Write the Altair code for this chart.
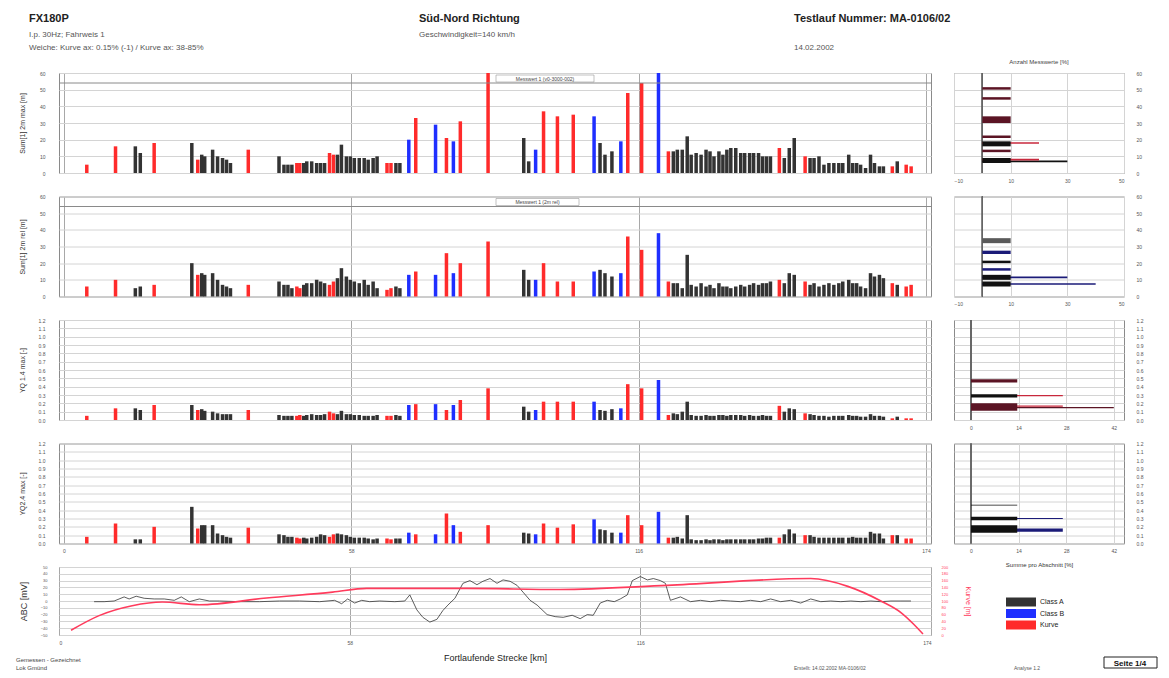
import altair as alt
import pandas as pd

FONT = "Liberation Sans"
GRID = "#d4d4d4"
VGRID = "#a8a8a8"
LABEL = "#555555"

# ---------------- distance axis ----------------
km_domain = [0, 174]
km_ticks = [0, 58, 116, 174]

# ---------------- bar data (one entry per measured spot) ----------------
km = [4.6, 10.4, 14.4, 15.4, 18.2, 25.8, 27.0, 27.8, 28.4, 30.0,
      31.0, 32.0, 32.8, 33.6, 37.2, 43.4, 44.4, 45.2, 46.0, 47.0,
      47.6, 48.4, 49.0, 50.0, 51.0, 51.8, 52.6, 53.6, 54.4, 55.2,
      56.0, 57.0, 57.8, 58.6, 59.6, 60.6, 61.4, 62.4, 63.2, 65.2,
      66.0, 67.0, 67.8, 69.6, 71.0, 75.0, 77.2, 78.6, 80.0, 85.6,
      92.8, 93.8, 95.2, 96.8, 99.6, 102.8, 107.0, 108.2, 109.2, 110.6,
      112.4, 113.8, 116.6, 120.0, 122.0, 123.0, 123.8, 124.8, 125.8, 126.6,
      127.6, 128.6, 129.6, 130.4, 131.2, 132.2, 133.0, 133.8, 134.6, 135.6,
      136.6, 137.4, 138.4, 139.2, 140.2, 141.0, 141.8, 142.6, 144.4, 145.4,
      146.4, 147.4, 149.6, 150.6, 151.4, 152.4, 153.4, 154.4, 155.4, 156.4,
      157.2, 158.4, 159.2, 160.0, 160.8, 161.8, 162.8, 163.6, 164.6, 165.4,
      167.2, 168.2, 170.0, 171.0]
cls = list("KKAAKAKAAA" "AAAAKAAAAK" "KAAAAAAKKA" "AAAAAAAAAK" "KAABKBKBKK"
           "AABKKKBAAA" "BKKBKAAAAA" "AAAAAAAAAA" "AAAAAAAAKA" "AAKAAAAAAA"
           "AAAAAAAAAA" "KAKK")
p1 = [5, 16, 16, 12, 18, 18, 8, 11, 10, 14,
      10, 9, 8, 6, 14, 10, 5, 5, 5, 6,
      6, 6, 7, 7, 6, 6, 6, 12, 11, 11,
      17, 10, 10, 9, 9, 9, 8, 9, 10, 6,
      6, 6, 6, 20, 33, 29, 21, 19, 31, 60,
      21, 7, 14, 37, 34, 35, 34, 18, 11, 13,
      19, 48, 54, 60, 13, 13, 14, 14, 22, 11,
      12, 11, 14, 13, 10, 13, 11, 14, 15, 15,
      12, 12, 12, 12, 12, 10, 10, 10, 15, 9,
      15, 21, 10, 9, 9, 10, 5, 6, 6, 6,
      6, 11, 6, 6, 5, 3, 11, 6, 4, 4,
      4, 7, 5, 4]
p2 = [6, 10, 5, 6, 7, 20, 13, 14, 13, 14,
      10, 7, 6, 5, 7, 9, 7, 7, 5, 6,
      5, 7, 8, 8, 10, 9, 8, 7, 9, 11,
      17, 12, 10, 9, 8, 10, 7, 9, 5, 4,
      5, 6, 5, 13, 15, 13, 26, 14, 20, 33,
      16, 10, 10, 20, 9, 9, 15, 16, 14, 12,
      14, 36, 28, 38, 9, 8, 8, 5, 25, 7,
      6, 8, 6, 7, 5, 8, 6, 6, 5, 6,
      7, 6, 7, 8, 7, 8, 8, 9, 10, 8,
      14, 13, 9, 7, 8, 6, 7, 8, 7, 8,
      9, 10, 8, 8, 6, 5, 14, 12, 13, 11,
      8, 7, 6, 7]
p3 = [0.05, 0.14, 0.14, 0.12, 0.18, 0.18, 0.12, 0.13, 0.11, 0.10,
      0.08, 0.07, 0.07, 0.07, 0.12, 0.06, 0.05, 0.05, 0.05, 0.05,
      0.06, 0.05, 0.06, 0.07, 0.06, 0.06, 0.07, 0.10, 0.08, 0.07,
      0.11, 0.07, 0.07, 0.06, 0.06, 0.05, 0.05, 0.05, 0.06, 0.05,
      0.05, 0.06, 0.05, 0.18, 0.19, 0.19, 0.12, 0.18, 0.24, 0.38,
      0.16, 0.10, 0.12, 0.22, 0.22, 0.22, 0.22, 0.12, 0.11, 0.13,
      0.14, 0.43, 0.38, 0.48, 0.06, 0.08, 0.07, 0.10, 0.22, 0.06,
      0.05, 0.05, 0.06, 0.05, 0.05, 0.06, 0.06, 0.05, 0.06, 0.06,
      0.06, 0.05, 0.06, 0.05, 0.05, 0.06, 0.05, 0.05, 0.17, 0.10,
      0.14, 0.13, 0.08, 0.07, 0.06, 0.05, 0.05, 0.04, 0.05, 0.05,
      0.05, 0.06, 0.05, 0.05, 0.04, 0.04, 0.07, 0.05, 0.05, 0.04,
      0.02, 0.04, 0.02, 0.02]
p4 = [0.08, 0.24, 0.05, 0.05, 0.20, 0.44, 0.18, 0.22, 0.22, 0.22,
      0.12, 0.10, 0.08, 0.07, 0.19, 0.11, 0.10, 0.08, 0.08, 0.07,
      0.06, 0.07, 0.06, 0.07, 0.08, 0.11, 0.10, 0.08, 0.11, 0.12,
      0.11, 0.10, 0.08, 0.07, 0.07, 0.07, 0.06, 0.05, 0.06, 0.06,
      0.05, 0.06, 0.06, 0.13, 0.11, 0.11, 0.36, 0.22, 0.14, 0.22,
      0.13, 0.12, 0.11, 0.24, 0.19, 0.23, 0.29, 0.17, 0.16, 0.13,
      0.13, 0.34, 0.22, 0.38, 0.07, 0.07, 0.08, 0.06, 0.34, 0.05,
      0.04, 0.04, 0.05, 0.04, 0.05, 0.05, 0.04, 0.05, 0.05, 0.05,
      0.05, 0.05, 0.05, 0.05, 0.06, 0.06, 0.07, 0.07, 0.07, 0.11,
      0.17, 0.12, 0.10, 0.10, 0.08, 0.07, 0.07, 0.07, 0.07, 0.07,
      0.07, 0.07, 0.08, 0.07, 0.07, 0.07, 0.14, 0.12, 0.12, 0.06,
      0.10, 0.10, 0.06, 0.06]

class_codes = ["A", "B", "K"]
class_names = ["Class A", "Class B", "Kurve"]
class_colors = ["#333333", "#1f2fff", "#ff2b2b"]

# ---------------- lower panel lines ----------------
abl_km = [7.0, 9.0, 11.0, 13.0, 14.0, 15.4, 17.0, 19.0, 21.0, 23.0,
          24.4, 26.0, 28.0, 30.0, 32.0, 36.0, 40.0, 44.0, 48.0, 52.0,
          55.0, 56.4, 57.6, 59.0, 60.4, 62.0, 64.0, 67.0, 69.0, 70.0,
          71.4, 72.6, 74.0, 75.4, 76.6, 77.6, 79.0, 80.6, 82.0, 83.4,
          84.6, 86.0, 87.4, 88.6, 90.0, 91.4, 92.6, 94.0, 95.4, 97.4,
          99.0, 100.6, 102.4, 104.0, 105.4, 106.6, 108.0, 109.4, 110.8, 112.0,
          113.4, 114.4, 116.0, 117.4, 118.6, 120.0, 121.0, 122.0, 124.0, 126.0,
          128.0, 130.0, 132.0, 134.0, 136.0, 138.0, 140.0, 142.0, 144.0, 146.0,
          148.0, 150.0, 152.0, 154.0, 156.0, 158.0, 160.0, 162.0, 164.0, 166.0,
          168.0, 170.0]
abl_val = [-1, -1, 0, 6, 3, 7, 4, 3, 3, 1,
           6, -1, 3, 0, 0, -1, -1, 0, 0, -1,
           1, -4, 3, -3, 1, -1, 0, -1, 0, 9,
           -13, -24, -31, -27, -14, -6, 4, 26, 30, 24,
           29, 33, 26, 31, 29, 23, 13, 1, -6, -20,
           -23, -24, -21, -26, -20, -21, -3, 1, -1, 3,
           9, 30, 36, 31, 33, 30, 26, 1, 6, -1,
           1, -1, 1, 0, -1, 1, -1, 3, -1, 1,
           -3, 3, -1, 0, -1, 0, -1, 0, -1, 0,
           0, 0]
kurve_km = [2.4, 8.0, 14.6, 20.6, 28.0, 41.4, 54.6, 61.4, 81.4, 100.0,
            121.4, 150.0, 157.4, 164.0, 168.0, 170.6, 172.4]
kurve_val = [14, 57, 86, 97, 89, 109, 126, 137, 137, 134,
             146, 166, 143, 100, 66, 31, 3]

# ---------------- histograms ----------------
tone_codes = ["A", "M", "R", "N", "G"]
tone_colors = ["#111111", "#5b1424", "#c8283c", "#1b1b78", "#5a5a5a"]

h1_lo = [50.0, 44.0, 30.0, 21.0, 17.5, 16.0, 12.5, 6.5, 7.5, 6.0]
h1_hi = [51.5, 45.5, 34.0, 22.5, 18.5, 19.0, 14.0, 7.5, 8.5, 9.0]
h1_pct = [10, 10, 10, 10, 20, 10, 10, 30, 20, 10]
h1_tone = ["M", "M", "M", "M", "R", "A", "M", "A", "R", "A"]

h2_lo = [32.0, 25.5, 20.0, 15.5, 11.0, 10.0, 7.0, 6.0]
h2_hi = [35.0, 27.5, 21.5, 17.0, 12.0, 13.0, 8.0, 9.0]
h2_pct = [10, 10, 10, 10, 30, 10, 40, 10]
h2_tone = ["G", "N", "A", "N", "N", "A", "N", "A"]

h3_lo = [0.45, 0.285, 0.27, 0.14, 0.16, 0.11]
h3_hi = [0.49, 0.30, 0.31, 0.155, 0.175, 0.20]
h3_pct = [13.6, 27, 13.6, 42, 27, 13.6]
h3_tone = ["M", "R", "A", "M", "R", "M"]

h4_lo = [0.455, 0.295, 0.28, 0.14, 0.13]
h4_hi = [0.465, 0.305, 0.32, 0.18, 0.22]
h4_pct = [13.6, 27, 13.6, 27, 13.6]
h4_tone = ["A", "N", "A", "N", "A"]

y60_ticks = [0, 10, 20, 30, 40, 50, 60]
y12_ticks = [0.0, 0.1, 0.2, 0.3, 0.4, 0.5, 0.6, 0.7, 0.8, 0.9, 1.0, 1.1, 1.2]

bars = pd.DataFrame({"km": km, "code": cls, "p1": p1, "p2": p2, "p3": p3, "p4": p4})
bars["klasse"] = bars["code"].map(dict(zip(class_codes, class_names)))

BAR_W, BAR_H = 872, 100
HIST_W = 170
LINE_H = 68


def note(text, x, y, size=7, weight="normal", align="left", color="#333333"):
    return alt.Chart(pd.DataFrame({"t": [text]})).mark_text(
        align=align, baseline="alphabetic", fontSize=size, fontWeight=weight,
        color=color, font=FONT
    ).encode(text="t:N", x=alt.value(x), y=alt.value(y))


def x_axis(show_labels, title=""):
    kw = dict(values=km_ticks, labels=show_labels, ticks=False, domain=False,
              grid=True, gridColor=VGRID, labelFontSize=5, labelColor=LABEL,
              labelPadding=5, title=title)
    if title:
        kw.update(titleFontSize=9, titleFontWeight="normal", titlePadding=8,
                  titleColor="#222222")
    return alt.Axis(**kw)


def x_km(show_labels, title=""):
    return alt.X("km:Q", scale=alt.Scale(domain=km_domain, nice=False, zero=False),
                 axis=x_axis(show_labels, title))


def bar_panel(field, ytitle, ydom, yvals, yfmt, show_x):
    return alt.Chart(bars).mark_bar(size=3.5, orient="vertical").encode(
        x=x_km(show_x),
        y=alt.Y(f"{field}:Q", scale=alt.Scale(domain=ydom, nice=False, zero=True),
                axis=alt.Axis(values=yvals, format=yfmt, title=ytitle, titleX=-34,
                              titleY=BAR_H / 2, titleFontSize=7,
                              titleFontWeight="normal", titleColor="#333333",
                              ticks=False, domain=False, grid=True, gridColor=GRID,
                              labelFontSize=5, labelColor=LABEL, labelPadding=14)),
        color=alt.Color("klasse:N", scale=alt.Scale(domain=class_names, range=class_colors),
                        legend=None),
    )


def strip(label, x0, x1):
    line = alt.Chart(pd.DataFrame({"t": [label]})).mark_rule(
        color="#8a8a8a", strokeWidth=1).encode(y=alt.value(10))
    box = alt.Chart(pd.DataFrame({"t": [label]})).mark_rect(
        fill="white", stroke="#999999", strokeWidth=0.6).encode(
        x=alt.value(x0), x2=alt.value(x1), y=alt.value(2), y2=alt.value(9))
    txt = alt.Chart(pd.DataFrame({"t": [label]})).mark_text(
        fontSize=5, color="#444444", font=FONT, baseline="middle").encode(
        text="t:N", x=alt.value((x0 + x1) / 2), y=alt.value(5.5))
    return [line, box, txt]


def hist_panel(lo, hi, pct, tone, ydom, yvals, yfmt, xdom, xvals, xfmt,
               xtitle="", title=""):
    df = pd.DataFrame({"lo": lo, "hi": hi, "pct": pct, "tone": tone})
    xax = dict(values=xvals, format=xfmt, title=xtitle, ticks=False, domain=False,
               grid=True, gridColor=GRID, labelFontSize=5, labelColor=LABEL,
               labelPadding=5)
    if xtitle:
        xax.update(titleFontSize=6, titleFontWeight="normal", titlePadding=8,
                   titleColor="#333333")
    xenc = alt.X("pct:Q", scale=alt.Scale(domain=xdom, nice=False, zero=False),
                 axis=alt.Axis(**xax))
    yenc = alt.Y("lo:Q", scale=alt.Scale(domain=ydom, nice=False, zero=True),
                 axis=alt.Axis(orient="right", values=yvals, format=yfmt, title="",
                               ticks=False, domain=False, grid=True, gridColor=GRID,
                               labelFontSize=5, labelColor=LABEL, labelPadding=12))
    zero = alt.Chart(df).mark_rule(color="#666666", strokeWidth=1).encode(
        x=alt.datum(0))
    rect = alt.Chart(df).mark_rect().encode(
        x=xenc, x2=alt.datum(0), y=yenc, y2="hi:Q",
        color=alt.Color("tone:N", scale=alt.Scale(domain=tone_codes, range=tone_colors),
                        legend=None),
    )
    ch = alt.layer(zero, rect).properties(width=HIST_W, height=BAR_H)
    if title:
        ch = ch.properties(title=alt.TitleParams(title, fontSize=6, fontWeight="normal",
                                                 color="#444444", offset=6, font=FONT))
    return ch


# ---------------- left column ----------------
header = [
    note("FX180P", -30, -51, 11, "bold", color="#222222"),
    note("I.p. 30Hz; Fahrweis 1", -30, -36, 8, color="#555555"),
    note("Weiche: Kurve ax: 0.15% (-1) / Kurve ax: 38-85%", -30, -23, 8, color="#555555"),
    note("Süd-Nord Richtung", 360, -51, 11, "bold", color="#222222"),
    note("Geschwindigkeit=140 km/h", 360, -36, 8, color="#555555"),
    note("Testlauf Nummer: MA-0106/02", 735, -51, 11, "bold", color="#222222"),
    note("14.02.2002", 735, -23, 8, color="#555555"),
]

bar1 = alt.layer(
    bar_panel("p1", "Sum[1] 2m max [m]", [0, 60], y60_ticks, "d", False),
    *strip("Messwert 1 (v0-3000-002)", 437, 535),
    *header,
).properties(width=BAR_W, height=BAR_H)

bar2 = alt.layer(
    bar_panel("p2", "Sum[1] 2m rel [m]", [0, 60], y60_ticks, "d", False),
    *strip("Messwert 1 (2m rel)", 437, 520),
).properties(width=BAR_W, height=BAR_H)

bar3 = bar_panel("p3", "YQ 1.4 max [-]", [0, 1.2], y12_ticks, ".1f", False).properties(
    width=BAR_W, height=BAR_H)
bar4 = bar_panel("p4", "YQ2.4 max [-]", [0, 1.2], y12_ticks, ".1f", True).properties(
    width=BAR_W, height=BAR_H)

abl_df = pd.DataFrame({"km": abl_km, "val": abl_val})
kurve_df = pd.DataFrame({"km": kurve_km, "val": kurve_val})

abl_line = alt.Chart(abl_df).mark_line(color="#333333", strokeWidth=0.8).encode(
    x=x_km(True, "Fortlaufende Strecke [km]"),
    y=alt.Y("val:Q", scale=alt.Scale(domain=[-50, 50], nice=False, zero=False),
            axis=alt.Axis(values=[-50, -40, -30, -20, -10, 0, 10, 20, 30, 40, 50],
                          title="ABC [mV]", titleX=-31, titleY=LINE_H / 2,
                          titleFontSize=9, titleFontWeight="normal",
                          titleColor="#333333", ticks=False, domain=False,
                          grid=True, gridColor=GRID, labelFontSize=4,
                          labelColor=LABEL, labelPadding=12)),
)
kurve_line = alt.Chart(kurve_df).mark_line(color="#ff3b5c", strokeWidth=1.6,
                                           interpolate="monotone").encode(
    x=x_km(True, "Fortlaufende Strecke [km]"),
    y=alt.Y("val:Q", scale=alt.Scale(domain=[0, 200], nice=False, zero=True),
            axis=alt.Axis(orient="right", values=[0, 20, 40, 60, 80, 100, 120, 140, 160, 180, 200],
                          title="Kurve [m]", titleX=33, titleY=LINE_H / 2,
                          titleFontSize=7, titleFontWeight="normal",
                          titleColor="#ff3b5c", ticks=False, domain=False,
                          grid=False, labelFontSize=4, labelColor="#ff3b5c",
                          labelPadding=10)),
)
line_panel = alt.layer(
    abl_line, kurve_line,
    note("Gemessen - Gezeichnet", -43, 95, 6, color="#444444"),
    note("Lok Gmünd", -43, 103, 6, color="#444444"),
    note("Erstellt: 14.02.2002  MA-0106/02", 735, 103, 5, color="#555555"),
).resolve_scale(y="independent").properties(width=BAR_W, height=LINE_H)

# ---------------- right column ----------------
hist1 = hist_panel(h1_lo, h1_hi, h1_pct, h1_tone, [0, 60], y60_ticks, "d",
                   [-10, 50], list(range(-10, 51, 5)), "d",
                   title="Anzahl Messwerte [%]")
hist2 = hist_panel(h2_lo, h2_hi, h2_pct, h2_tone, [0, 60], y60_ticks, "d",
                   [-10, 50], list(range(-10, 51, 5)), "d")
hist3 = hist_panel(h3_lo, h3_hi, h3_pct, h3_tone, [0, 1.2], y12_ticks, ".1f",
                   [-5, 45], [0, 7, 14, 21, 28, 35, 42], "d")
hist4 = hist_panel(h4_lo, h4_hi, h4_pct, h4_tone, [0, 1.2], y12_ticks, ".1f",
                   [-5, 45], [0, 7, 14, 21, 28, 35, 42], "d",
                   xtitle="Summe pro Abschnitt [%]")

leg_df = pd.DataFrame({"label": class_names})
leg_y = alt.Y("label:N", scale=alt.Scale(type="point", domain=class_names,
                                         range=[35, 58], padding=0), axis=None)
swatch = alt.Chart(leg_df).mark_point(shape="M-1,-0.3H1V0.3H-1Z", filled=True,
                                      size=900, opacity=1).encode(
    x=alt.value(67), y=leg_y,
    color=alt.Color("label:N", scale=alt.Scale(domain=class_names, range=class_colors),
                    legend=None),
)
swatch_txt = alt.Chart(leg_df).mark_text(align="left", baseline="middle", fontSize=7,
                                         color="#222222", font=FONT).encode(
    x=alt.value(86), y=leg_y, text="label:N")
page_box = alt.Chart(pd.DataFrame({"t": ["Seite 1/4"]})).mark_rect(
    fill="white", stroke="#222222", strokeWidth=1).encode(
    x=alt.value(150), x2=alt.value(203), y=alt.value(90), y2=alt.value(101))
legend_cell = alt.layer(
    swatch, swatch_txt, page_box,
    note("Seite 1/4", 176, 99, 8, "bold", align="center", color="#111111"),
    note("Analyse 1.2", 60, 103, 5, color="#555555"),
).properties(width=HIST_W, height=LINE_H, view=alt.ViewBackground(stroke="transparent"))

chart = alt.concat(
    bar1, hist1, bar2, hist2, bar3, hist3, bar4, hist4, line_panel, legend_cell,
    columns=2, spacing={"row": 23.5, "column": 23}, bounds="flush", align="each",
).resolve_scale(color="independent", x="independent", y="independent").properties(
    padding={"left": 7, "top": 4, "right": 2, "bottom": 2}
).configure(font=FONT).configure_view(stroke="#8a8a8a", strokeWidth=1)

chart.save("out.html", embed_options={"renderer": "svg", "actions": False})
